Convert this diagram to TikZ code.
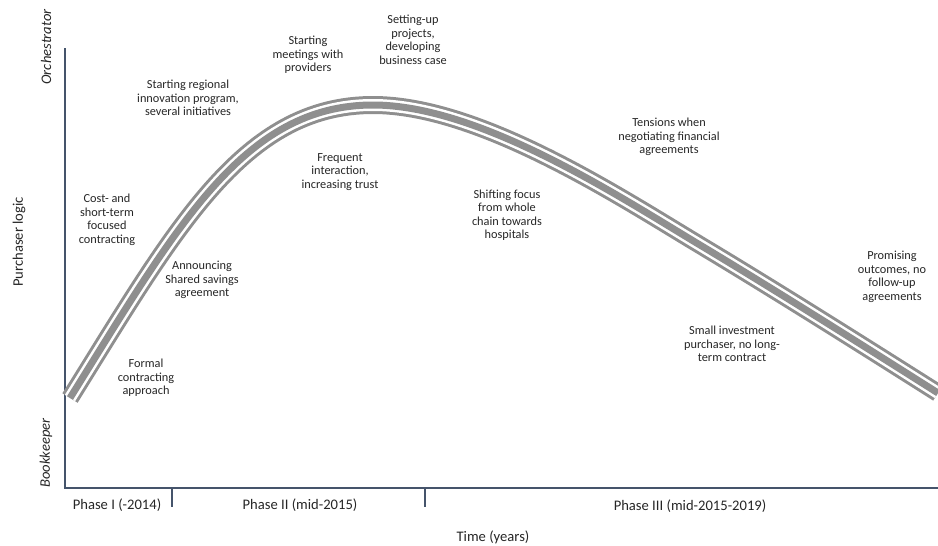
\documentclass[tikz,border=0pt]{standalone}
\usepackage{fontspec}
\setmainfont{Carlito}
\usepackage{tikz}
\definecolor{curvegray}{rgb}{0.56,0.56,0.56}
\definecolor{axisblue}{rgb}{0.27,0.33,0.42}
\definecolor{txtgray}{rgb}{0.15,0.15,0.15}
\tikzset{
  event/.style={align=center, inner sep=0pt, text=txtgray, font=\fontsize{12.3}{13.5}\selectfont},
  axislabel/.style={inner sep=0pt, text=txtgray, font=\fontsize{14.6}{16}\selectfont},
  axisline/.style={color=axisblue, line width=1.4pt}
}
\begin{document}
\begin{tikzpicture}[x=1pt,y=-1pt]
			\useasboundingbox (0,0) rectangle (938,546);
			% axes
			\coordinate (O) at (65,488);
			\coordinate (ytop) at (65,48);
			\coordinate (xend) at (938,488);
			\draw [axisline] (ytop)-- (O)-- (xend);
			\draw [axisline] (172,488)-- (172,507);
			\draw [axisline] (425,488)-- (425,507);
			% curve
			\foreach \w/\c in {18/curvegray,12/white,7/curvegray}
			\draw [color=\c, line width=\w pt] (70,398) .. controls (176,228) and (243,105) .. (373,105)
			      .. controls (480,105) and (620,197) .. (700,245)
			      .. controls (780,293) and (870,350) .. (938,393);
			% axis labels
			\node [axislabel, rotate=90] (orch) at (46,47) {\itshape Orchestrator};
			\node [axislabel, rotate=90] (book) at (46,453) {\itshape Bookkeeper};
			\node [axislabel, rotate=90] (ylab) at (19,242) {Purchaser logic};
			\node [axislabel] (ph1) at (117,505) {Phase I (-2014)};
			\node [axislabel] (ph2) at (300,505) {Phase II (mid-2015)};
			\node [axislabel] (ph3) at (690,506) {Phase III (mid-2015-2019)};
			\node [axislabel] (xlab) at (493,537) {Time (years)};
			% events
			\node [event] (cost) at (107,220) {Cost- and\\short-term\\focused\\contracting};
			\node [event] (announce) at (202,280) {Announcing\\Shared savings\\agreement};
			\node [event] (formal) at (146,378) {Formal\\contracting\\approach};
			\node [event] (regional) at (188,98) {Starting regional\\innovation program,\\several initiatives};
			\node [event] (meetings) at (308,55) {Starting\\meetings with\\providers};
			\node [event] (setup) at (413,40) {Setting-up\\projects,\\developing\\business case};
			\node [event] (frequent) at (340,172) {Frequent\\interaction,\\increasing trust};
			\node [event] (shifting) at (507,215) {Shifting focus\\from whole\\chain towards\\hospitals};
			\node [event] (tensions) at (669,137) {Tensions when\\negotiating financial\\agreements};
			\node [event] (promising) at (892,277) {Promising\\outcomes, no\\follow-up\\agreements};
			\node [event] (small) at (732,344) {Small investment\\purchaser, no long-\\term contract};
\end{tikzpicture}
\end{document}
